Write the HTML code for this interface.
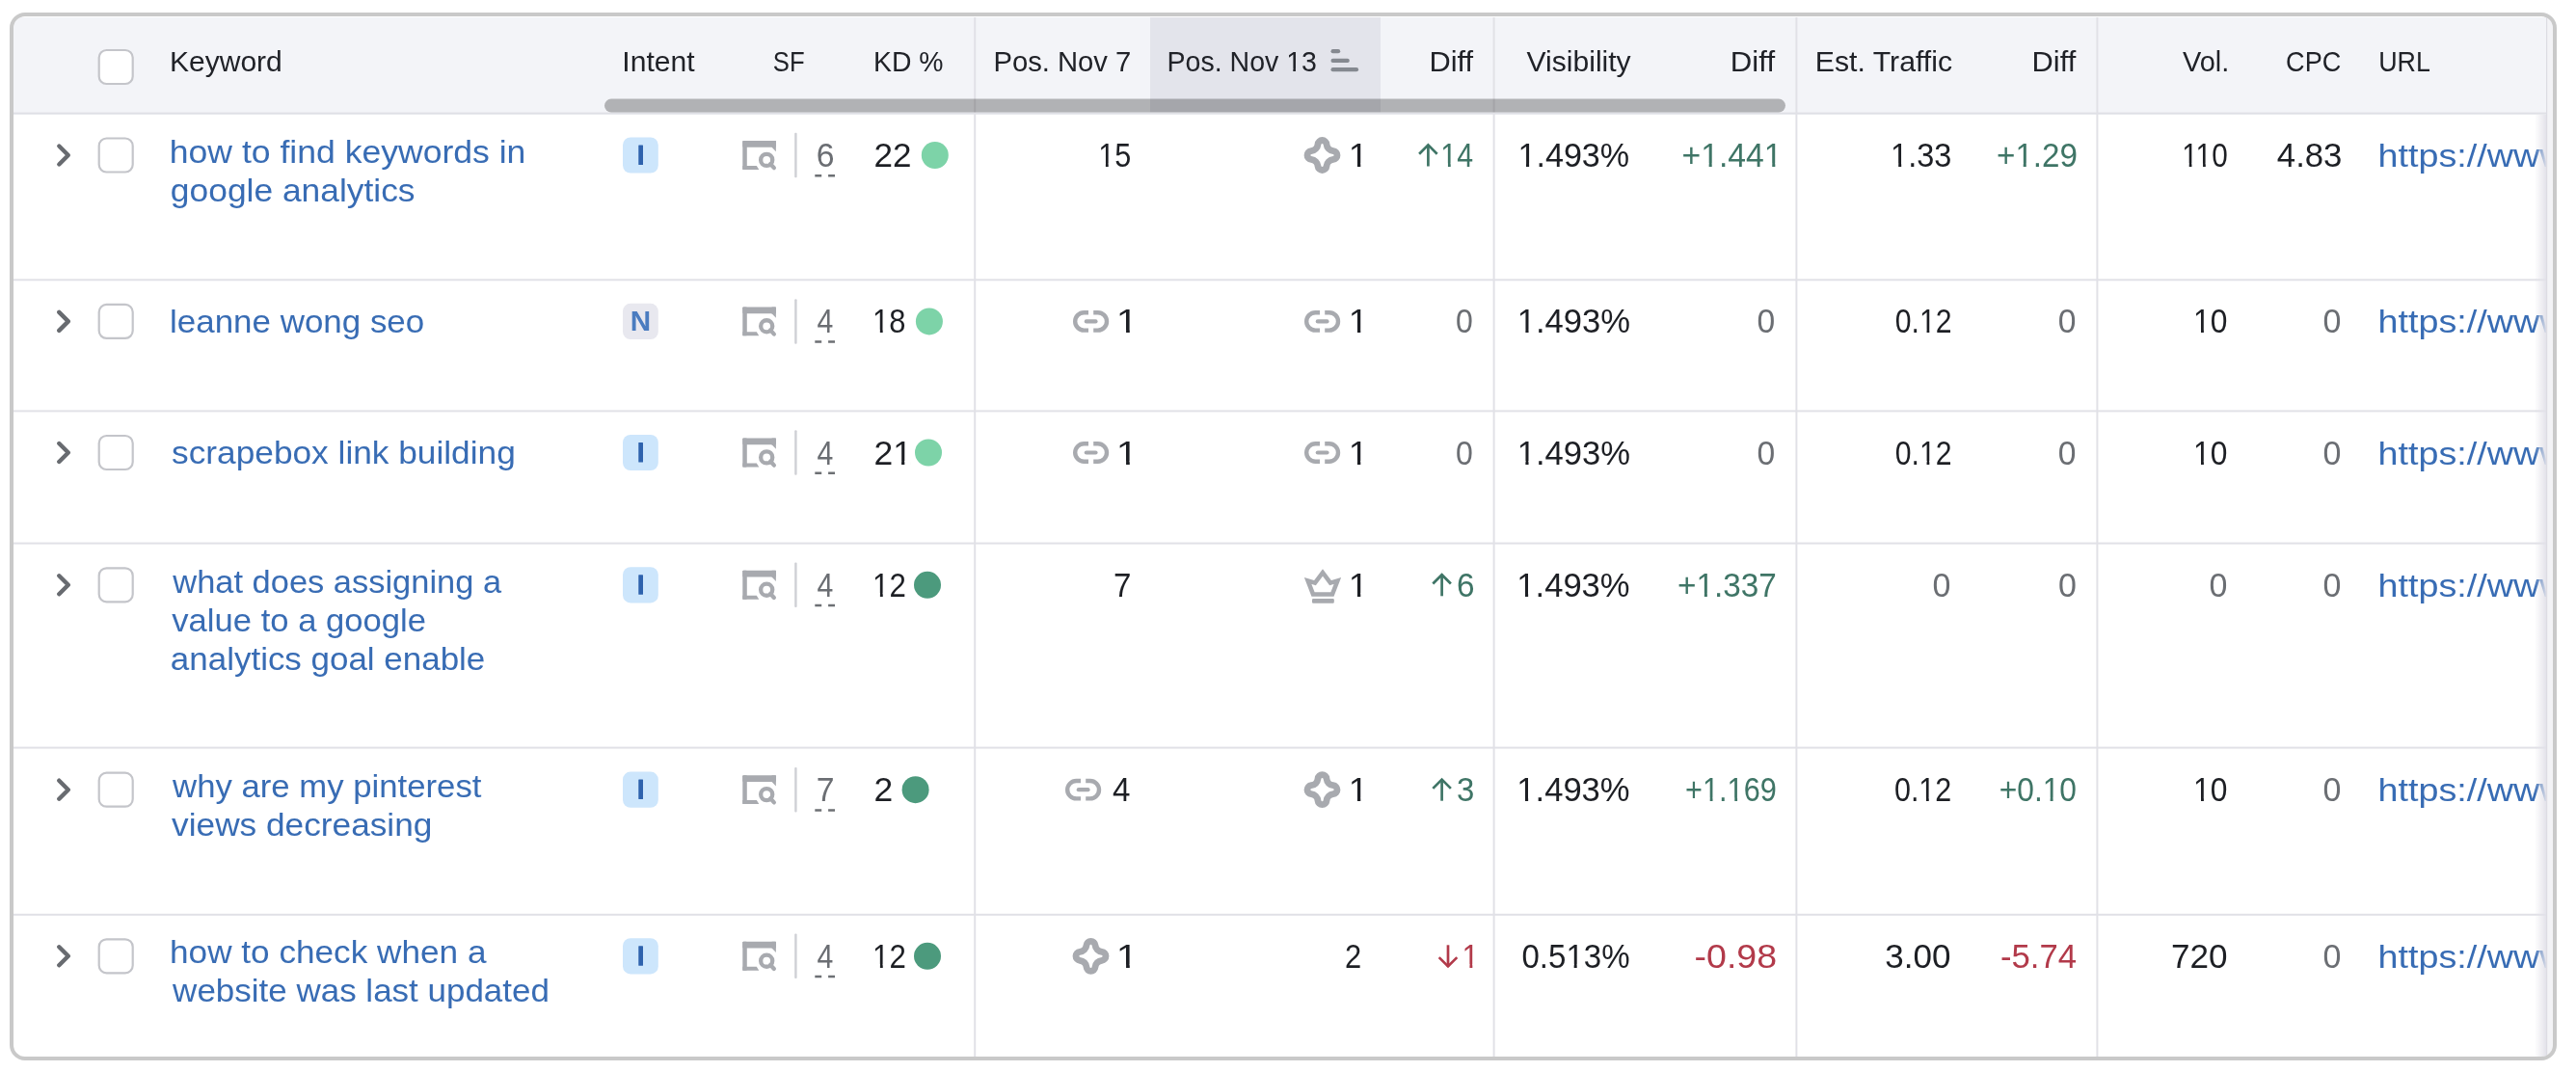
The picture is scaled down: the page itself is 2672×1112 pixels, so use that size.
<!DOCTYPE html>
<html><head><meta charset="utf-8"><style>
html,body{margin:0;padding:0;background:#fff;overflow:hidden}
svg{display:block;will-change:transform}
text{font-family:"Liberation Sans",sans-serif}
</style></head><body>
<svg width="2672" height="1112" viewBox="0 0 2672 1112">
<defs><clipPath id="cl"><rect x="14" y="17" width="2634" height="1079" rx="12"/></clipPath>
<clipPath id="urlclip"><rect x="0" y="0" width="2641" height="1112"/></clipPath></defs>
<g clip-path="url(#cl)">
<rect x="14" y="17" width="2634" height="1079" rx="0" fill="#ffffff" />
<rect x="14" y="18" width="2634" height="98.5" rx="0" fill="#f3f4f8" />
<rect x="1193" y="18" width="239" height="98.5" rx="0" fill="#e3e4eb" />
<rect x="14" y="116.5" width="2628" height="2.2" rx="0" fill="#dfe0e6" />
<rect x="1010.2" y="18" width="2" height="1078" rx="0" fill="#e1e1e7" />
<rect x="1548.6" y="18" width="2" height="1078" rx="0" fill="#e1e1e7" />
<rect x="1862.4" y="18" width="2" height="1078" rx="0" fill="#e1e1e7" />
<rect x="2174.4" y="18" width="2" height="1078" rx="0" fill="#e1e1e7" />
<rect x="14" y="289.3" width="2628" height="2" rx="0" fill="#e1e1e7" />
<rect x="14" y="425.4" width="2628" height="2" rx="0" fill="#e1e1e7" />
<rect x="14" y="562.6" width="2628" height="2" rx="0" fill="#e1e1e7" />
<rect x="14" y="774.6" width="2628" height="2" rx="0" fill="#e1e1e7" />
<rect x="14" y="947.8" width="2628" height="2" rx="0" fill="#e1e1e7" />
<rect x="627" y="102.6" width="1225" height="14" rx="7" fill="#000" fill-opacity="0.27"/>
<text x="175.96" y="74.00" font-size="29.5" fill="#202228" textLength="116.87" lengthAdjust="spacingAndGlyphs">Keyword</text>
<text x="645.36" y="74.00" font-size="29.5" fill="#202228" textLength="75.24" lengthAdjust="spacingAndGlyphs">Intent</text>
<text x="801.83" y="74.00" font-size="29.5" fill="#202228" textLength="32.76" lengthAdjust="spacingAndGlyphs">SF</text>
<text x="906.08" y="74.00" font-size="29.5" fill="#202228" textLength="72.44" lengthAdjust="spacingAndGlyphs">KD %</text>
<text x="1030.42" y="74.00" font-size="29.5" fill="#202228" textLength="142.87" lengthAdjust="spacingAndGlyphs">Pos. Nov 7</text>
<text x="1210.57" y="74.00" font-size="29.5" fill="#202228" textLength="155.33" lengthAdjust="spacingAndGlyphs">Pos. Nov 13</text>
<rect x="1334.86" y="70.90" width="6.43" height="3.80" fill="#e3e4eb"/>
<rect x="1343.92" y="70.90" width="5.46" height="3.80" fill="#e3e4eb"/>
<text x="1482.51" y="74.00" font-size="29.5" fill="#202228" textLength="45.65" lengthAdjust="spacingAndGlyphs">Diff</text>
<text x="1583.60" y="74.00" font-size="29.5" fill="#202228" textLength="108.05" lengthAdjust="spacingAndGlyphs">Visibility</text>
<text x="1794.89" y="74.00" font-size="29.5" fill="#202228" textLength="46.16" lengthAdjust="spacingAndGlyphs">Diff</text>
<text x="1882.76" y="74.00" font-size="29.5" fill="#202228" textLength="142.31" lengthAdjust="spacingAndGlyphs">Est. Traffic</text>
<text x="2107.61" y="74.00" font-size="29.5" fill="#202228" textLength="45.65" lengthAdjust="spacingAndGlyphs">Diff</text>
<text x="2264.10" y="74.00" font-size="29.5" fill="#202228" textLength="48.25" lengthAdjust="spacingAndGlyphs">Vol.</text>
<text x="2371.08" y="74.00" font-size="29.5" fill="#202228" textLength="57.20" lengthAdjust="spacingAndGlyphs">CPC</text>
<text x="2467.18" y="74.00" font-size="29.5" fill="#202228" textLength="53.79" lengthAdjust="spacingAndGlyphs">URL</text>
<line x1="1382.6" y1="53.2" x2="1388.1" y2="53.2" stroke="#858990" stroke-width="4.2" stroke-linecap="round"/>
<line x1="1382.6" y1="62.9" x2="1397.7" y2="62.9" stroke="#858990" stroke-width="4.2" stroke-linecap="round"/>
<line x1="1382.6" y1="72.2" x2="1407.0" y2="72.2" stroke="#858990" stroke-width="4.2" stroke-linecap="round"/>
<rect x="102.7" y="52.00" width="35" height="35" rx="7.8" fill="#fff" stroke="#c4c5ca" stroke-width="2.2"/>
<path d="M61.3,151.50 L70.8,161.00 L61.3,170.50" fill="none" stroke="#686b70" stroke-width="4.4" stroke-linecap="round" stroke-linejoin="round"/>
<rect x="102.7" y="143.50" width="35" height="35" rx="7.8" fill="#fff" stroke="#c4c5ca" stroke-width="2.2"/>
<text x="175.81" y="168.90" font-size="34" fill="#386cb4" textLength="369.59" lengthAdjust="spacingAndGlyphs">how to find keywords in</text>
<text x="176.86" y="208.60" font-size="34" fill="#386cb4" textLength="253.68" lengthAdjust="spacingAndGlyphs">google analytics</text>
<rect x="646" y="142.40" width="36.8" height="37.2" rx="8" fill="#cde6fc" />
<rect x="662.3" y="150.40" width="4.7" height="20.5" rx="0.5" fill="#2e62ad" />
<g transform="translate(770.3,146.00)" fill="#a8aaaf"><rect x="0" y="0" width="34.6" height="6.8" rx="1"/><rect x="0" y="0" width="4.5" height="29.9" rx="0.8"/><path d="M0,25.9 H14.5 L17,29.9 H0 Z"/><path d="M30.3,0 H34.6 V11.3 L30.3,6.8 Z"/><circle cx="24.9" cy="19.9" r="6.05" fill="none" stroke="#a8aaaf" stroke-width="4.3"/><line x1="28.8" y1="24" x2="32.6" y2="28.2" stroke="#a8aaaf" stroke-width="4.2" stroke-linecap="round"/></g>
<rect x="824.2" y="137.80" width="2.4" height="46.5" rx="1" fill="#cfd0d5" />
<text x="846.64" y="173.00" font-size="35" fill="#6b6e73" textLength="18.78" lengthAdjust="spacingAndGlyphs">6</text>
<line x1="845.3" y1="182.20" x2="866.6" y2="182.20" stroke="#6d7074" stroke-width="2.5" stroke-dasharray="6.9 6.9"/>
<text x="906.50" y="173.00" font-size="35" fill="#1d1f24" textLength="38.97" lengthAdjust="spacingAndGlyphs">22</text>
<circle cx="969.80" cy="161.00" r="14" fill="#7dd3a8"/>
<path d="M61.3,323.90 L70.8,333.40 L61.3,342.90" fill="none" stroke="#686b70" stroke-width="4.4" stroke-linecap="round" stroke-linejoin="round"/>
<rect x="102.7" y="315.90" width="35" height="35" rx="7.8" fill="#fff" stroke="#c4c5ca" stroke-width="2.2"/>
<text x="176.04" y="345.20" font-size="34" fill="#386cb4" textLength="264.19" lengthAdjust="spacingAndGlyphs">leanne wong seo</text>
<rect x="646" y="314.80" width="36.8" height="37.2" rx="8" fill="#e8e8ef" />
<text x="653.82" y="342.70" font-size="30" fill="#4a7cc0" font-weight="bold" textLength="21.42" lengthAdjust="spacingAndGlyphs">N</text>
<g transform="translate(770.3,318.40)" fill="#a8aaaf"><rect x="0" y="0" width="34.6" height="6.8" rx="1"/><rect x="0" y="0" width="4.5" height="29.9" rx="0.8"/><path d="M0,25.9 H14.5 L17,29.9 H0 Z"/><path d="M30.3,0 H34.6 V11.3 L30.3,6.8 Z"/><circle cx="24.9" cy="19.9" r="6.05" fill="none" stroke="#a8aaaf" stroke-width="4.3"/><line x1="28.8" y1="24" x2="32.6" y2="28.2" stroke="#a8aaaf" stroke-width="4.2" stroke-linecap="round"/></g>
<rect x="824.2" y="310.20" width="2.4" height="46.5" rx="1" fill="#cfd0d5" />
<text x="847.60" y="345.40" font-size="35" fill="#6b6e73" textLength="16.80" lengthAdjust="spacingAndGlyphs">4</text>
<line x1="845.3" y1="354.60" x2="866.6" y2="354.60" stroke="#6d7074" stroke-width="2.5" stroke-dasharray="6.9 6.9"/>
<text x="905.12" y="345.40" font-size="35" fill="#1d1f24" textLength="34.38" lengthAdjust="spacingAndGlyphs">18</text>
<rect x="905.98" y="341.89" width="6.86" height="4.21" fill="#ffffff"/>
<rect x="915.67" y="341.89" width="5.87" height="4.21" fill="#ffffff"/>
<circle cx="963.90" cy="333.40" r="14" fill="#7dd3a8"/>
<path d="M61.3,460.00 L70.8,469.50 L61.3,479.00" fill="none" stroke="#686b70" stroke-width="4.4" stroke-linecap="round" stroke-linejoin="round"/>
<rect x="102.7" y="452.00" width="35" height="35" rx="7.8" fill="#fff" stroke="#c4c5ca" stroke-width="2.2"/>
<text x="178.10" y="481.00" font-size="34" fill="#386cb4" textLength="356.68" lengthAdjust="spacingAndGlyphs">scrapebox link building</text>
<rect x="646" y="450.90" width="36.8" height="37.2" rx="8" fill="#cde6fc" />
<rect x="662.3" y="458.90" width="4.7" height="20.5" rx="0.5" fill="#2e62ad" />
<g transform="translate(770.3,454.50)" fill="#a8aaaf"><rect x="0" y="0" width="34.6" height="6.8" rx="1"/><rect x="0" y="0" width="4.5" height="29.9" rx="0.8"/><path d="M0,25.9 H14.5 L17,29.9 H0 Z"/><path d="M30.3,0 H34.6 V11.3 L30.3,6.8 Z"/><circle cx="24.9" cy="19.9" r="6.05" fill="none" stroke="#a8aaaf" stroke-width="4.3"/><line x1="28.8" y1="24" x2="32.6" y2="28.2" stroke="#a8aaaf" stroke-width="4.2" stroke-linecap="round"/></g>
<rect x="824.2" y="446.30" width="2.4" height="46.5" rx="1" fill="#cfd0d5" />
<text x="847.60" y="481.50" font-size="35" fill="#6b6e73" textLength="16.80" lengthAdjust="spacingAndGlyphs">4</text>
<line x1="845.3" y1="490.70" x2="866.6" y2="490.70" stroke="#6d7074" stroke-width="2.5" stroke-dasharray="6.9 6.9"/>
<text x="906.49" y="481.50" font-size="35" fill="#1d1f24" textLength="39.44" lengthAdjust="spacingAndGlyphs">21</text>
<rect x="927.40" y="477.99" width="7.67" height="4.21" fill="#ffffff"/>
<rect x="938.30" y="477.99" width="6.64" height="4.21" fill="#ffffff"/>
<circle cx="963.00" cy="469.50" r="14" fill="#7dd3a8"/>
<path d="M61.3,597.30 L70.8,606.80 L61.3,616.30" fill="none" stroke="#686b70" stroke-width="4.4" stroke-linecap="round" stroke-linejoin="round"/>
<rect x="102.7" y="589.30" width="35" height="35" rx="7.8" fill="#fff" stroke="#c4c5ca" stroke-width="2.2"/>
<text x="179.31" y="614.90" font-size="34" fill="#386cb4" textLength="340.80" lengthAdjust="spacingAndGlyphs">what does assigning a</text>
<text x="178.30" y="654.50" font-size="34" fill="#386cb4" textLength="263.63" lengthAdjust="spacingAndGlyphs">value to a google</text>
<text x="176.87" y="694.90" font-size="34" fill="#386cb4" textLength="326.46" lengthAdjust="spacingAndGlyphs">analytics goal enable</text>
<rect x="646" y="588.20" width="36.8" height="37.2" rx="8" fill="#cde6fc" />
<rect x="662.3" y="596.20" width="4.7" height="20.5" rx="0.5" fill="#2e62ad" />
<g transform="translate(770.3,591.80)" fill="#a8aaaf"><rect x="0" y="0" width="34.6" height="6.8" rx="1"/><rect x="0" y="0" width="4.5" height="29.9" rx="0.8"/><path d="M0,25.9 H14.5 L17,29.9 H0 Z"/><path d="M30.3,0 H34.6 V11.3 L30.3,6.8 Z"/><circle cx="24.9" cy="19.9" r="6.05" fill="none" stroke="#a8aaaf" stroke-width="4.3"/><line x1="28.8" y1="24" x2="32.6" y2="28.2" stroke="#a8aaaf" stroke-width="4.2" stroke-linecap="round"/></g>
<rect x="824.2" y="583.60" width="2.4" height="46.5" rx="1" fill="#cfd0d5" />
<text x="847.60" y="618.80" font-size="35" fill="#6b6e73" textLength="16.80" lengthAdjust="spacingAndGlyphs">4</text>
<line x1="845.3" y1="628.00" x2="866.6" y2="628.00" stroke="#6d7074" stroke-width="2.5" stroke-dasharray="6.9 6.9"/>
<text x="905.09" y="618.80" font-size="35" fill="#1d1f24" textLength="34.71" lengthAdjust="spacingAndGlyphs">12</text>
<rect x="905.98" y="615.29" width="6.91" height="4.21" fill="#ffffff"/>
<rect x="915.75" y="615.29" width="5.92" height="4.21" fill="#ffffff"/>
<circle cx="962.00" cy="606.80" r="14" fill="#4c9a7d"/>
<path d="M61.3,809.70 L70.8,819.20 L61.3,828.70" fill="none" stroke="#686b70" stroke-width="4.4" stroke-linecap="round" stroke-linejoin="round"/>
<rect x="102.7" y="801.70" width="35" height="35" rx="7.8" fill="#fff" stroke="#c4c5ca" stroke-width="2.2"/>
<text x="179.12" y="827.30" font-size="34" fill="#386cb4" textLength="320.31" lengthAdjust="spacingAndGlyphs">why are my pinterest</text>
<text x="178.10" y="866.80" font-size="34" fill="#386cb4" textLength="270.28" lengthAdjust="spacingAndGlyphs">views decreasing</text>
<rect x="646" y="800.60" width="36.8" height="37.2" rx="8" fill="#cde6fc" />
<rect x="662.3" y="808.60" width="4.7" height="20.5" rx="0.5" fill="#2e62ad" />
<g transform="translate(770.3,804.20)" fill="#a8aaaf"><rect x="0" y="0" width="34.6" height="6.8" rx="1"/><rect x="0" y="0" width="4.5" height="29.9" rx="0.8"/><path d="M0,25.9 H14.5 L17,29.9 H0 Z"/><path d="M30.3,0 H34.6 V11.3 L30.3,6.8 Z"/><circle cx="24.9" cy="19.9" r="6.05" fill="none" stroke="#a8aaaf" stroke-width="4.3"/><line x1="28.8" y1="24" x2="32.6" y2="28.2" stroke="#a8aaaf" stroke-width="4.2" stroke-linecap="round"/></g>
<rect x="824.2" y="796.00" width="2.4" height="46.5" rx="1" fill="#cfd0d5" />
<text x="846.64" y="831.20" font-size="35" fill="#6b6e73" textLength="18.78" lengthAdjust="spacingAndGlyphs">7</text>
<line x1="845.3" y1="840.40" x2="866.6" y2="840.40" stroke="#6d7074" stroke-width="2.5" stroke-dasharray="6.9 6.9"/>
<text x="906.49" y="831.20" font-size="35" fill="#1d1f24" textLength="19.69" lengthAdjust="spacingAndGlyphs">2</text>
<circle cx="949.60" cy="819.20" r="14" fill="#4c9a7d"/>
<path d="M61.3,982.30 L70.8,991.80 L61.3,1001.30" fill="none" stroke="#686b70" stroke-width="4.4" stroke-linecap="round" stroke-linejoin="round"/>
<rect x="102.7" y="974.30" width="35" height="35" rx="7.8" fill="#fff" stroke="#c4c5ca" stroke-width="2.2"/>
<text x="176.03" y="999.00" font-size="34" fill="#386cb4" textLength="328.48" lengthAdjust="spacingAndGlyphs">how to check when a</text>
<text x="179.13" y="1039.40" font-size="34" fill="#386cb4" textLength="390.84" lengthAdjust="spacingAndGlyphs">website was last updated</text>
<rect x="646" y="973.20" width="36.8" height="37.2" rx="8" fill="#cde6fc" />
<rect x="662.3" y="981.20" width="4.7" height="20.5" rx="0.5" fill="#2e62ad" />
<g transform="translate(770.3,976.80)" fill="#a8aaaf"><rect x="0" y="0" width="34.6" height="6.8" rx="1"/><rect x="0" y="0" width="4.5" height="29.9" rx="0.8"/><path d="M0,25.9 H14.5 L17,29.9 H0 Z"/><path d="M30.3,0 H34.6 V11.3 L30.3,6.8 Z"/><circle cx="24.9" cy="19.9" r="6.05" fill="none" stroke="#a8aaaf" stroke-width="4.3"/><line x1="28.8" y1="24" x2="32.6" y2="28.2" stroke="#a8aaaf" stroke-width="4.2" stroke-linecap="round"/></g>
<rect x="824.2" y="968.60" width="2.4" height="46.5" rx="1" fill="#cfd0d5" />
<text x="847.60" y="1003.80" font-size="35" fill="#6b6e73" textLength="16.80" lengthAdjust="spacingAndGlyphs">4</text>
<line x1="845.3" y1="1013.00" x2="866.6" y2="1013.00" stroke="#6d7074" stroke-width="2.5" stroke-dasharray="6.9 6.9"/>
<text x="905.09" y="1003.80" font-size="35" fill="#1d1f24" textLength="34.71" lengthAdjust="spacingAndGlyphs">12</text>
<rect x="905.98" y="1000.29" width="6.91" height="4.21" fill="#ffffff"/>
<rect x="915.75" y="1000.29" width="5.92" height="4.21" fill="#ffffff"/>
<circle cx="962.00" cy="991.80" r="14" fill="#4c9a7d"/>
<text x="1139.24" y="173.00" font-size="35" fill="#1d1f24" textLength="34.04" lengthAdjust="spacingAndGlyphs">15</text>
<rect x="1140.08" y="169.49" width="6.80" height="4.21" fill="#ffffff"/>
<rect x="1149.69" y="169.49" width="5.82" height="4.21" fill="#ffffff"/>
<path transform="translate(1371.50,161.00)" d="M-4.478,-11.446 A4.5,4.5 0 0 1 4.478,-11.446 A7.78,7.78 0 0 0 11.446,-4.478 A4.5,4.5 0 0 1 11.446,4.478 A7.78,7.78 0 0 0 4.478,11.446 A4.5,4.5 0 0 1 -4.478,11.446 A7.78,7.78 0 0 0 -11.446,4.478 A4.5,4.5 0 0 1 -11.446,-4.478 A7.78,7.78 0 0 0 -4.478,-11.446 Z" fill="none" stroke="#a8aaaf" stroke-width="6.8"/>
<text x="1398.77" y="173.00" font-size="35" fill="#1d1f24" textLength="20.42" lengthAdjust="spacingAndGlyphs">1</text>
<rect x="1400.06" y="169.49" width="7.89" height="4.21" fill="#ffffff"/>
<rect x="1411.29" y="169.49" width="6.86" height="4.21" fill="#ffffff"/>
<g stroke="#3f7566" stroke-width="2.7" fill="none"><line x1="1481.4" y1="150.0" x2="1481.4" y2="172.5"/><path d="M1472.1000000000001,159.7 L1481.4,150.4 L1490.7,159.7"/></g>
<text x="1494.36" y="173.00" font-size="35" fill="#3f7566" textLength="33.74" lengthAdjust="spacingAndGlyphs">14</text>
<rect x="1495.18" y="169.49" width="6.76" height="4.21" fill="#ffffff"/>
<rect x="1504.72" y="169.49" width="5.77" height="4.21" fill="#ffffff"/>
<text x="1574.47" y="173.00" font-size="35" fill="#1d1f24" textLength="115.73" lengthAdjust="spacingAndGlyphs">1.493%</text>
<rect x="1575.57" y="169.49" width="7.43" height="4.21" fill="#ffffff"/>
<rect x="1586.11" y="169.49" width="6.41" height="4.21" fill="#ffffff"/>
<text x="1744.54" y="173.00" font-size="35" fill="#3f7566" textLength="104.02" lengthAdjust="spacingAndGlyphs">+1.441</text>
<rect x="1765.29" y="169.49" width="7.36" height="4.21" fill="#ffffff"/>
<rect x="1775.72" y="169.49" width="6.34" height="4.21" fill="#ffffff"/>
<rect x="1830.88" y="169.49" width="7.36" height="4.21" fill="#ffffff"/>
<rect x="1841.32" y="169.49" width="6.34" height="4.21" fill="#ffffff"/>
<text x="1961.09" y="173.00" font-size="35" fill="#1d1f24" textLength="63.27" lengthAdjust="spacingAndGlyphs">1.33</text>
<rect x="1962.07" y="169.49" width="7.14" height="4.21" fill="#ffffff"/>
<rect x="1972.19" y="169.49" width="6.14" height="4.21" fill="#ffffff"/>
<text x="2071.05" y="173.00" font-size="35" fill="#3f7566" textLength="83.94" lengthAdjust="spacingAndGlyphs">+1.29</text>
<rect x="2091.45" y="169.49" width="7.26" height="4.21" fill="#ffffff"/>
<rect x="2101.75" y="169.49" width="6.25" height="4.21" fill="#ffffff"/>
<text x="2263.31" y="173.00" font-size="35" fill="#1d1f24" textLength="47.39" lengthAdjust="spacingAndGlyphs">110</text>
<rect x="2264.08" y="169.49" width="6.65" height="4.21" fill="#ffffff"/>
<rect x="2273.46" y="169.49" width="5.67" height="4.21" fill="#ffffff"/>
<rect x="2278.41" y="169.49" width="6.65" height="4.21" fill="#ffffff"/>
<rect x="2287.78" y="169.49" width="5.67" height="4.21" fill="#ffffff"/>
<text x="2361.80" y="173.00" font-size="35" fill="#1d1f24" textLength="67.66" lengthAdjust="spacingAndGlyphs">4.83</text>
<g clip-path="url(#urlclip)">
<text x="2466.58" y="173.00" font-size="34" fill="#386cb4" textLength="194.92" lengthAdjust="spacingAndGlyphs">https://www</text>
</g>
<g transform="translate(1113,333.40)" fill="none" stroke="#a8aaaf"><path d="M16,-9.2 H11.4 A9.2,9.2 0 0 0 11.4,9.2 H16" stroke-width="4.4"/><path d="M21.2,-9.2 H25.8 A9.2,9.2 0 0 1 25.8,9.2 H21.2" stroke-width="4.4"/><line x1="13.8" y1="0" x2="23.5" y2="0" stroke-width="4.2" stroke-linecap="round"/></g>
<text x="1157.85" y="345.40" font-size="35" fill="#1d1f24" textLength="22.69" lengthAdjust="spacingAndGlyphs">1</text>
<rect x="1159.44" y="341.89" width="8.62" height="4.21" fill="#ffffff"/>
<rect x="1171.77" y="341.89" width="7.55" height="4.21" fill="#ffffff"/>
<g transform="translate(1353,333.40)" fill="none" stroke="#a8aaaf"><path d="M16,-9.2 H11.4 A9.2,9.2 0 0 0 11.4,9.2 H16" stroke-width="4.4"/><path d="M21.2,-9.2 H25.8 A9.2,9.2 0 0 1 25.8,9.2 H21.2" stroke-width="4.4"/><line x1="13.8" y1="0" x2="23.5" y2="0" stroke-width="4.2" stroke-linecap="round"/></g>
<text x="1398.77" y="345.40" font-size="35" fill="#1d1f24" textLength="20.42" lengthAdjust="spacingAndGlyphs">1</text>
<rect x="1400.06" y="341.89" width="7.89" height="4.21" fill="#ffffff"/>
<rect x="1411.29" y="341.89" width="6.86" height="4.21" fill="#ffffff"/>
<text x="1510.08" y="345.40" font-size="35" fill="#6b6e73" textLength="17.84" lengthAdjust="spacingAndGlyphs">0</text>
<text x="1573.73" y="345.40" font-size="35" fill="#1d1f24" textLength="117.38" lengthAdjust="spacingAndGlyphs">1.493%</text>
<rect x="1574.86" y="341.89" width="7.52" height="4.21" fill="#ffffff"/>
<rect x="1585.54" y="341.89" width="6.50" height="4.21" fill="#ffffff"/>
<text x="1822.54" y="345.40" font-size="35" fill="#6b6e73" textLength="18.71" lengthAdjust="spacingAndGlyphs">0</text>
<text x="1965.84" y="345.40" font-size="35" fill="#1d1f24" textLength="58.73" lengthAdjust="spacingAndGlyphs">0.12</text>
<rect x="1991.81" y="341.89" width="6.73" height="4.21" fill="#ffffff"/>
<rect x="2001.31" y="341.89" width="5.74" height="4.21" fill="#ffffff"/>
<text x="2134.74" y="345.40" font-size="35" fill="#6b6e73" textLength="18.71" lengthAdjust="spacingAndGlyphs">0</text>
<text x="2275.05" y="345.40" font-size="35" fill="#1d1f24" textLength="35.38" lengthAdjust="spacingAndGlyphs">10</text>
<rect x="2275.98" y="341.89" width="7.02" height="4.21" fill="#ffffff"/>
<rect x="2285.90" y="341.89" width="6.02" height="4.21" fill="#ffffff"/>
<text x="2409.53" y="345.40" font-size="35" fill="#6b6e73" textLength="18.92" lengthAdjust="spacingAndGlyphs">0</text>
<g clip-path="url(#urlclip)">
<text x="2466.58" y="345.40" font-size="34" fill="#386cb4" textLength="194.92" lengthAdjust="spacingAndGlyphs">https://www</text>
</g>
<g transform="translate(1113,469.50)" fill="none" stroke="#a8aaaf"><path d="M16,-9.2 H11.4 A9.2,9.2 0 0 0 11.4,9.2 H16" stroke-width="4.4"/><path d="M21.2,-9.2 H25.8 A9.2,9.2 0 0 1 25.8,9.2 H21.2" stroke-width="4.4"/><line x1="13.8" y1="0" x2="23.5" y2="0" stroke-width="4.2" stroke-linecap="round"/></g>
<text x="1157.85" y="481.50" font-size="35" fill="#1d1f24" textLength="22.69" lengthAdjust="spacingAndGlyphs">1</text>
<rect x="1159.44" y="477.99" width="8.62" height="4.21" fill="#ffffff"/>
<rect x="1171.77" y="477.99" width="7.55" height="4.21" fill="#ffffff"/>
<g transform="translate(1353,469.50)" fill="none" stroke="#a8aaaf"><path d="M16,-9.2 H11.4 A9.2,9.2 0 0 0 11.4,9.2 H16" stroke-width="4.4"/><path d="M21.2,-9.2 H25.8 A9.2,9.2 0 0 1 25.8,9.2 H21.2" stroke-width="4.4"/><line x1="13.8" y1="0" x2="23.5" y2="0" stroke-width="4.2" stroke-linecap="round"/></g>
<text x="1398.77" y="481.50" font-size="35" fill="#1d1f24" textLength="20.42" lengthAdjust="spacingAndGlyphs">1</text>
<rect x="1400.06" y="477.99" width="7.89" height="4.21" fill="#ffffff"/>
<rect x="1411.29" y="477.99" width="6.86" height="4.21" fill="#ffffff"/>
<text x="1510.08" y="481.50" font-size="35" fill="#6b6e73" textLength="17.84" lengthAdjust="spacingAndGlyphs">0</text>
<text x="1573.73" y="481.50" font-size="35" fill="#1d1f24" textLength="117.38" lengthAdjust="spacingAndGlyphs">1.493%</text>
<rect x="1574.86" y="477.99" width="7.52" height="4.21" fill="#ffffff"/>
<rect x="1585.54" y="477.99" width="6.50" height="4.21" fill="#ffffff"/>
<text x="1822.54" y="481.50" font-size="35" fill="#6b6e73" textLength="18.71" lengthAdjust="spacingAndGlyphs">0</text>
<text x="1965.84" y="481.50" font-size="35" fill="#1d1f24" textLength="58.73" lengthAdjust="spacingAndGlyphs">0.12</text>
<rect x="1991.81" y="477.99" width="6.73" height="4.21" fill="#ffffff"/>
<rect x="2001.31" y="477.99" width="5.74" height="4.21" fill="#ffffff"/>
<text x="2134.74" y="481.50" font-size="35" fill="#6b6e73" textLength="18.71" lengthAdjust="spacingAndGlyphs">0</text>
<text x="2275.05" y="481.50" font-size="35" fill="#1d1f24" textLength="35.38" lengthAdjust="spacingAndGlyphs">10</text>
<rect x="2275.98" y="477.99" width="7.02" height="4.21" fill="#ffffff"/>
<rect x="2285.90" y="477.99" width="6.02" height="4.21" fill="#ffffff"/>
<text x="2409.53" y="481.50" font-size="35" fill="#6b6e73" textLength="18.92" lengthAdjust="spacingAndGlyphs">0</text>
<g clip-path="url(#urlclip)">
<text x="2466.58" y="481.50" font-size="34" fill="#386cb4" textLength="194.92" lengthAdjust="spacingAndGlyphs">https://www</text>
</g>
<text x="1154.95" y="618.80" font-size="35" fill="#1d1f24" textLength="18.43" lengthAdjust="spacingAndGlyphs">7</text>
<g transform="translate(1353,606.80)"><path d="M3.6,-4.4 L11,-2.2 L19,-12.9 L27,-2.2 L34.4,-4.4 L29,9.6 H9 Z" fill="none" stroke="#a8aaaf" stroke-width="4.5" stroke-linejoin="miter" stroke-miterlimit="6"/><rect x="8" y="14.3" width="22.8" height="4.6" rx="1.2" fill="#a8aaaf"/></g>
<text x="1398.77" y="618.80" font-size="35" fill="#1d1f24" textLength="20.42" lengthAdjust="spacingAndGlyphs">1</text>
<rect x="1400.06" y="615.29" width="7.89" height="4.21" fill="#ffffff"/>
<rect x="1411.29" y="615.29" width="6.86" height="4.21" fill="#ffffff"/>
<g stroke="#3f7566" stroke-width="2.7" fill="none"><line x1="1495.6" y1="595.8" x2="1495.6" y2="618.3"/><path d="M1486.3,605.5 L1495.6,596.1999999999999 L1504.8999999999999,605.5"/></g>
<text x="1511.05" y="618.80" font-size="35" fill="#3f7566" textLength="18.55" lengthAdjust="spacingAndGlyphs">6</text>
<text x="1573.33" y="618.80" font-size="35" fill="#1d1f24" textLength="117.28" lengthAdjust="spacingAndGlyphs">1.493%</text>
<rect x="1574.46" y="615.29" width="7.51" height="4.21" fill="#ffffff"/>
<rect x="1585.13" y="615.29" width="6.49" height="4.21" fill="#ffffff"/>
<text x="1740.05" y="618.80" font-size="35" fill="#3f7566" textLength="102.85" lengthAdjust="spacingAndGlyphs">+1.337</text>
<rect x="1760.55" y="615.29" width="7.29" height="4.21" fill="#ffffff"/>
<rect x="1770.88" y="615.29" width="6.28" height="4.21" fill="#ffffff"/>
<text x="2004.53" y="618.80" font-size="35" fill="#6b6e73" textLength="18.92" lengthAdjust="spacingAndGlyphs">0</text>
<text x="2135.03" y="618.80" font-size="35" fill="#6b6e73" textLength="18.92" lengthAdjust="spacingAndGlyphs">0</text>
<text x="2291.53" y="618.80" font-size="35" fill="#6b6e73" textLength="18.92" lengthAdjust="spacingAndGlyphs">0</text>
<text x="2409.53" y="618.80" font-size="35" fill="#6b6e73" textLength="18.92" lengthAdjust="spacingAndGlyphs">0</text>
<g clip-path="url(#urlclip)">
<text x="2466.58" y="618.80" font-size="34" fill="#386cb4" textLength="194.92" lengthAdjust="spacingAndGlyphs">https://www</text>
</g>
<g transform="translate(1105,819.20)" fill="none" stroke="#a8aaaf"><path d="M16,-9.2 H11.4 A9.2,9.2 0 0 0 11.4,9.2 H16" stroke-width="4.4"/><path d="M21.2,-9.2 H25.8 A9.2,9.2 0 0 1 25.8,9.2 H21.2" stroke-width="4.4"/><line x1="13.8" y1="0" x2="23.5" y2="0" stroke-width="4.2" stroke-linecap="round"/></g>
<text x="1154.00" y="831.20" font-size="35" fill="#1d1f24" textLength="18.44" lengthAdjust="spacingAndGlyphs">4</text>
<path transform="translate(1371.50,819.20)" d="M-4.478,-11.446 A4.5,4.5 0 0 1 4.478,-11.446 A7.78,7.78 0 0 0 11.446,-4.478 A4.5,4.5 0 0 1 11.446,4.478 A7.78,7.78 0 0 0 4.478,11.446 A4.5,4.5 0 0 1 -4.478,11.446 A7.78,7.78 0 0 0 -11.446,4.478 A4.5,4.5 0 0 1 -11.446,-4.478 A7.78,7.78 0 0 0 -4.478,-11.446 Z" fill="none" stroke="#a8aaaf" stroke-width="6.8"/>
<text x="1398.77" y="831.20" font-size="35" fill="#1d1f24" textLength="20.42" lengthAdjust="spacingAndGlyphs">1</text>
<rect x="1400.06" y="827.69" width="7.89" height="4.21" fill="#ffffff"/>
<rect x="1411.29" y="827.69" width="6.86" height="4.21" fill="#ffffff"/>
<g stroke="#3f7566" stroke-width="2.7" fill="none"><line x1="1495.6" y1="808.2" x2="1495.6" y2="830.7"/><path d="M1486.3,817.9000000000001 L1495.6,808.6 L1504.8999999999999,817.9000000000001"/></g>
<text x="1511.06" y="831.20" font-size="35" fill="#3f7566" textLength="18.32" lengthAdjust="spacingAndGlyphs">3</text>
<text x="1573.33" y="831.20" font-size="35" fill="#1d1f24" textLength="117.28" lengthAdjust="spacingAndGlyphs">1.493%</text>
<rect x="1574.46" y="827.69" width="7.51" height="4.21" fill="#ffffff"/>
<rect x="1585.13" y="827.69" width="6.49" height="4.21" fill="#ffffff"/>
<text x="1748.12" y="831.20" font-size="35" fill="#3f7566" textLength="94.66" lengthAdjust="spacingAndGlyphs">+1.169</text>
<rect x="1766.88" y="827.69" width="6.82" height="4.21" fill="#ffffff"/>
<rect x="1776.51" y="827.69" width="5.83" height="4.21" fill="#ffffff"/>
<rect x="1792.46" y="827.69" width="6.82" height="4.21" fill="#ffffff"/>
<rect x="1802.09" y="827.69" width="5.83" height="4.21" fill="#ffffff"/>
<text x="1964.93" y="831.20" font-size="35" fill="#1d1f24" textLength="59.35" lengthAdjust="spacingAndGlyphs">0.12</text>
<rect x="1991.19" y="827.69" width="6.78" height="4.21" fill="#ffffff"/>
<rect x="2000.77" y="827.69" width="5.80" height="4.21" fill="#ffffff"/>
<text x="2073.69" y="831.20" font-size="35" fill="#3f7566" textLength="80.33" lengthAdjust="spacingAndGlyphs">+0.10</text>
<rect x="2119.63" y="827.69" width="7.01" height="4.21" fill="#ffffff"/>
<rect x="2129.55" y="827.69" width="6.01" height="4.21" fill="#ffffff"/>
<text x="2275.05" y="831.20" font-size="35" fill="#1d1f24" textLength="35.38" lengthAdjust="spacingAndGlyphs">10</text>
<rect x="2275.98" y="827.69" width="7.02" height="4.21" fill="#ffffff"/>
<rect x="2285.90" y="827.69" width="6.02" height="4.21" fill="#ffffff"/>
<text x="2409.53" y="831.20" font-size="35" fill="#6b6e73" textLength="18.92" lengthAdjust="spacingAndGlyphs">0</text>
<g clip-path="url(#urlclip)">
<text x="2466.58" y="831.20" font-size="34" fill="#386cb4" textLength="194.92" lengthAdjust="spacingAndGlyphs">https://www</text>
</g>
<path transform="translate(1131.50,991.80)" d="M-4.478,-11.446 A4.5,4.5 0 0 1 4.478,-11.446 A7.78,7.78 0 0 0 11.446,-4.478 A4.5,4.5 0 0 1 11.446,4.478 A7.78,7.78 0 0 0 4.478,11.446 A4.5,4.5 0 0 1 -4.478,11.446 A7.78,7.78 0 0 0 -11.446,4.478 A4.5,4.5 0 0 1 -11.446,-4.478 A7.78,7.78 0 0 0 -4.478,-11.446 Z" fill="none" stroke="#a8aaaf" stroke-width="6.8"/>
<text x="1157.85" y="1003.80" font-size="35" fill="#1d1f24" textLength="22.69" lengthAdjust="spacingAndGlyphs">1</text>
<rect x="1159.44" y="1000.29" width="8.62" height="4.21" fill="#ffffff"/>
<rect x="1171.77" y="1000.29" width="7.55" height="4.21" fill="#ffffff"/>
<text x="1395.12" y="1003.80" font-size="35" fill="#1d1f24" textLength="17.18" lengthAdjust="spacingAndGlyphs">2</text>
<g stroke="#b23a4a" stroke-width="2.7" fill="none"><line x1="1502" y1="980.3" x2="1502" y2="1002.8"/><path d="M1492.7,993.0999999999999 L1502,1002.4 L1511.3,993.0999999999999"/></g>
<text x="1516.57" y="1003.80" font-size="35" fill="#b23a4a" textLength="17.53" lengthAdjust="spacingAndGlyphs">1</text>
<rect x="1517.48" y="1000.29" width="6.97" height="4.21" fill="#ffffff"/>
<rect x="1527.33" y="1000.29" width="5.97" height="4.21" fill="#ffffff"/>
<text x="1578.46" y="1003.80" font-size="35" fill="#1d1f24" textLength="112.10" lengthAdjust="spacingAndGlyphs">0.513%</text>
<rect x="1625.42" y="1000.29" width="7.24" height="4.21" fill="#ffffff"/>
<rect x="1635.69" y="1000.29" width="6.23" height="4.21" fill="#ffffff"/>
<text x="1757.53" y="1003.80" font-size="35" fill="#b23a4a" textLength="85.54" lengthAdjust="spacingAndGlyphs">-0.98</text>
<text x="1955.30" y="1003.80" font-size="35" fill="#1d1f24" textLength="68.17" lengthAdjust="spacingAndGlyphs">3.00</text>
<text x="2074.91" y="1003.80" font-size="35" fill="#b23a4a" textLength="79.15" lengthAdjust="spacingAndGlyphs">-5.74</text>
<text x="2251.90" y="1003.80" font-size="35" fill="#1d1f24" textLength="58.57" lengthAdjust="spacingAndGlyphs">720</text>
<text x="2409.53" y="1003.80" font-size="35" fill="#6b6e73" textLength="18.92" lengthAdjust="spacingAndGlyphs">0</text>
<g clip-path="url(#urlclip)">
<text x="2466.58" y="1003.80" font-size="34" fill="#386cb4" textLength="194.92" lengthAdjust="spacingAndGlyphs">https://www</text>
</g>
<defs><linearGradient id="sh" x1="0" x2="1"><stop offset="0" stop-color="#e4e3ea" stop-opacity="0"/><stop offset="1" stop-color="#e2e1e9" stop-opacity="1"/></linearGradient></defs>
<rect x="2629" y="119" width="12.5" height="977" rx="0" fill="url(#sh)" />
<rect x="2641.5" y="17" width="6.5" height="1079" rx="0" fill="#f3f3f6" />
<rect x="2641" y="17" width="1.2" height="1079" rx="0" fill="#dddce3" />
</g>
<rect x="12" y="15" width="2638" height="1083" rx="14" fill="none" stroke="#c9c9c9" stroke-width="4"/>
</svg>
</body></html>
